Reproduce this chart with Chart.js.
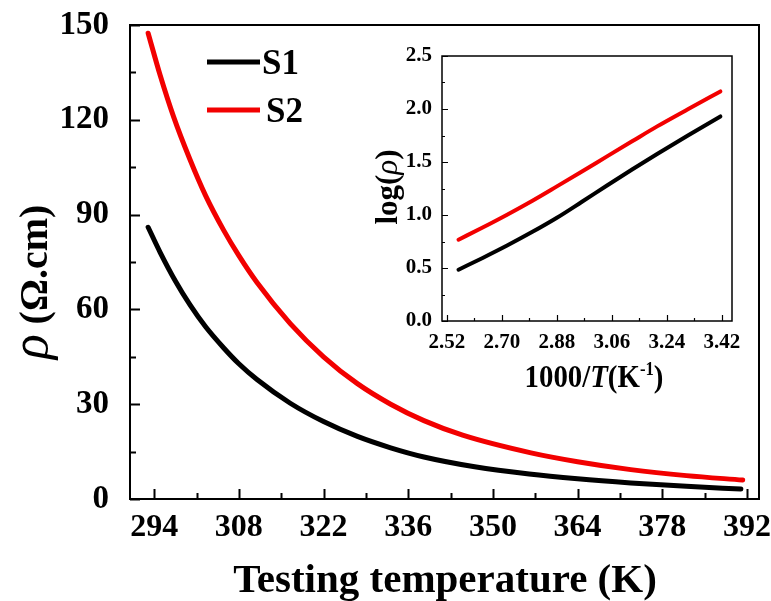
<!DOCTYPE html>
<html>
<head>
<meta charset="utf-8">
<script src="https://cdn.jsdelivr.net/npm/chart.js@4.4.0/dist/chart.umd.min.js"></script>
<style>
body{margin:0;background:#fff;}
#wrap{position:relative;width:771px;height:601px;background:#fff;}
#main{position:absolute;left:0;top:0;}
#inset{position:absolute;left:360px;top:30px;}
</style>
</head>
<body>
<div id="wrap">
  <canvas id="main" width="771" height="601"></canvas>
  <canvas id="inset" width="400" height="380"></canvas>
</div>
<script>
// main plot: resistivity vs temperature
var temps_s1 = [293.0, 295.0, 297.5, 299.9, 302.5, 305.5, 308.0, 311.0, 316.5, 322.0, 327.6, 333.1, 338.6, 347.0, 356.0, 364.0, 372.8, 382.0, 391.0];
var rho_s1   = [86.0, 78.0, 69.0, 61.5, 54.5, 47.8, 42.8, 37.8, 30.3, 24.5, 19.8, 16.2, 13.3, 10.2, 7.9, 6.4, 5.1, 4.0, 3.15];
var temps_s2 = [293.0, 295.0, 297.2, 299.9, 302.5, 305.5, 308.0, 311.0, 316.5, 322.0, 327.6, 333.1, 338.6, 345.0, 356.3, 364.0, 372.8, 382.0, 391.3];
var rho_s2   = [147.4, 134.0, 121.0, 107.5, 96.0, 85.0, 77.0, 68.5, 55.5, 45.0, 36.5, 30.0, 24.8, 20.2, 14.6, 11.8, 9.3, 7.4, 6.0];

// inset: log(rho) vs 1000/T
var invT_s1   = [2.558, 2.637, 2.717, 2.800, 2.880, 2.962, 3.044, 3.126, 3.208, 3.310, 3.415];
var logRho_s1 = [0.484, 0.595, 0.712, 0.841, 0.974, 1.125, 1.278, 1.429, 1.576, 1.753, 1.930];
var invT_s2   = [2.558, 2.637, 2.717, 2.800, 2.880, 2.962, 3.044, 3.126, 3.208, 3.310, 3.415];
var logRho_s2 = [0.767, 0.882, 1.003, 1.135, 1.270, 1.410, 1.553, 1.695, 1.836, 2.000, 2.166];

var seriesNames  = ['S1', 'S2'];
var seriesColors = ['#000000', '#f20000'];

// tick labels
var mainXTicks  = [294, 308, 322, 336, 350, 364, 378, 392];
var mainYTicks  = [0, 30, 60, 90, 120, 150];
var insetXTicks = [2.52, 2.70, 2.88, 3.06, 3.24, 3.42];
var insetYTicks = [0.0, 0.5, 1.0, 1.5, 2.0, 2.5];

var SERIF = "'Liberation Serif', 'Times New Roman', serif";

function pairs(xs, ys){
  var out = [];
  for (var i = 0; i < xs.length; i++) out.push({x: xs[i], y: ys[i]});
  return out;
}

// majors plus a minor halfway between each pair
function withMinors(majors){
  return function(scale){
    var t = [];
    for (var i = 0; i < majors.length; i++){
      t.push({value: majors[i]});
      if (i < majors.length - 1) t.push({value: (majors[i] + majors[i+1]) / 2});
    }
    scale.ticks = t;
  };
}

// fixed axis size, and no extra room for overhanging labels
function fixX(h){
  return function(s){ s.height = h; s.paddingLeft = 0; s.paddingRight = 0; };
}
function fixY(w){
  return function(s){ s.width = w; s.paddingTop = 0; s.paddingBottom = 0; };
}

function drawParts(ctx, parts, x, y, angle, squeeze){
  ctx.save();
  ctx.translate(x, y);
  ctx.rotate(angle);
  ctx.scale(squeeze, 1);
  ctx.fillStyle = '#000';
  ctx.textBaseline = 'alphabetic';
  ctx.textAlign = 'left';
  var total = 0;
  parts.forEach(function(p){ ctx.font = p.font; total += ctx.measureText(p.text).width; });
  var cx = -total / 2;
  parts.forEach(function(p){
    ctx.font = p.font;
    ctx.fillText(p.text, cx, p.dy || 0);
    cx += ctx.measureText(p.text).width;
  });
  ctx.restore();
}

// box round the plot area and inward ticks
var frameTicks = {
  id: 'frameTicks',
  afterDraw: function(chart, args, opts){
    var ctx = chart.ctx, a = chart.chartArea;
    var xs = chart.scales.x, ys = chart.scales.y;
    ctx.save();
    ctx.strokeStyle = '#000';
    ctx.lineWidth = opts.box;
    ctx.strokeRect(a.left, a.top, a.right - a.left, a.bottom - a.top);
    ctx.lineWidth = opts.tick;
    ctx.beginPath();
    xs.ticks.forEach(function(t){
      var px = Math.round(xs.getPixelForValue(t.value)) + 0.5;
      var len = opts.xMajors.indexOf(t.value) >= 0 ? opts.major : opts.minor;
      ctx.moveTo(px, a.bottom); ctx.lineTo(px, a.bottom - len);
    });
    ys.ticks.forEach(function(t){
      var py = Math.round(ys.getPixelForValue(t.value)) + 0.5;
      var len = opts.yMajors.indexOf(t.value) >= 0 ? opts.major : opts.minor;
      ctx.moveTo(a.left, py); ctx.lineTo(a.left + len, py);
    });
    ctx.stroke();
    ctx.restore();
  }
};

var legendLines = {
  id: 'legendLines',
  afterDraw: function(chart){
    var ctx = chart.ctx;
    ctx.save();
    chart.data.datasets.forEach(function(ds, i){
      var y = 62 + i * 48;
      ctx.strokeStyle = ds.borderColor;
      ctx.lineWidth = 5;
      ctx.beginPath();
      ctx.moveTo(207, y); ctx.lineTo(260, y);
      ctx.stroke();
      ctx.fillStyle = '#000';
      ctx.font = 'bold 35px ' + SERIF;
      ctx.textBaseline = 'alphabetic';
      ctx.fillText(ds.label, 262 + i * 4, y + 11.5);
    });
    ctx.restore();
  }
};

var mainTitles = {
  id: 'mainTitles',
  afterDraw: function(chart){
    var ctx = chart.ctx;
    drawParts(ctx, [{text: 'Testing temperature (K)', font: 'bold 41px ' + SERIF}], 445, 592, 0, 1);
    drawParts(ctx, [
      {text: 'ρ', font: 'italic 52px ' + SERIF},
      {text: ' (Ω.cm)', font: 'bold 40px ' + SERIF}
    ], 47, 282, -Math.PI / 2, 1);
  }
};

var insetTitles = {
  id: 'insetTitles',
  afterDraw: function(chart){
    var ctx = chart.ctx;
    drawParts(ctx, [
      {text: '1000/', font: 'bold 31px ' + SERIF},
      {text: 'T', font: 'bold italic 31px ' + SERIF},
      {text: '(K', font: 'bold 31px ' + SERIF},
      {text: '-1', font: 'bold 18px ' + SERIF, dy: -12},
      {text: ')', font: 'bold 31px ' + SERIF}
    ], 234, 357, 0, 0.93);
    drawParts(ctx, [
      {text: 'log(', font: 'bold 31px ' + SERIF},
      {text: 'ρ', font: 'italic 31px ' + SERIF},
      {text: ')', font: 'bold 31px ' + SERIF}
    ], 37, 157, -Math.PI / 2, 1);
  }
};

function lineSet(label, color, data, width){
  return {
    label: label, data: data, borderColor: color, backgroundColor: color,
    borderWidth: width, pointRadius: 0, fill: false,
    cubicInterpolationMode: 'monotone', borderCapStyle: 'round'
  };
}

function tickFont(size){ return {family: SERIF, size: size, weight: 'bold'}; }

new Chart(document.getElementById('main'), {
  type: 'line',
  data: {datasets: [
    lineSet(seriesNames[0], seriesColors[0], pairs(temps_s1, rho_s1), 5),
    lineSet(seriesNames[1], seriesColors[1], pairs(temps_s2, rho_s2), 5)
  ]},
  options: {
    responsive: false, animation: false, devicePixelRatio: 1,
    layout: {padding: {left: 0, top: 25, right: 12, bottom: 0}},
    plugins: {
      legend: {display: false}, tooltip: {enabled: false},
      frameTicks: {box: 2, tick: 2, major: 10, minor: 6, xMajors: mainXTicks, yMajors: mainYTicks}
    },
    scales: {
      x: {
        type: 'linear', min: 290, max: 394,
        grid: {display: false}, border: {display: false},
        afterBuildTicks: withMinors(mainXTicks),
        afterFit: fixX(102),
        ticks: {
          padding: 2, color: '#000', font: tickFont(32), autoSkip: false, maxRotation: 0,
          callback: function(v){ return mainXTicks.indexOf(v) >= 0 ? String(v) : ''; }
        }
      },
      y: {
        type: 'linear', min: 0, max: 150,
        grid: {display: false}, border: {display: false},
        afterBuildTicks: withMinors(mainYTicks),
        afterFit: fixY(130),
        ticks: {
          padding: 13, color: '#000', font: tickFont(33), autoSkip: false,
          callback: function(v){ return mainYTicks.indexOf(v) >= 0 ? String(v) : ''; }
        }
      }
    }
  },
  plugins: [frameTicks, legendLines, mainTitles]
});

new Chart(document.getElementById('inset'), {
  type: 'line',
  data: {datasets: [
    lineSet(seriesNames[0], seriesColors[0], pairs(invT_s1, logRho_s1), 4),
    lineSet(seriesNames[1], seriesColors[1], pairs(invT_s2, logRho_s2), 4)
  ]},
  options: {
    responsive: false, animation: false, devicePixelRatio: 1,
    layout: {padding: {left: 0, top: 26, right: 28, bottom: 0}},
    plugins: {
      legend: {display: false}, tooltip: {enabled: false},
      frameTicks: {box: 1.5, tick: 1.2, major: 6, minor: 3, xMajors: insetXTicks, yMajors: insetYTicks}
    },
    scales: {
      x: {
        type: 'linear', min: 2.504, max: 3.453,
        grid: {display: false}, border: {display: false},
        afterBuildTicks: withMinors(insetXTicks),
        afterFit: fixX(89),
        ticks: {
          padding: 1, color: '#000', font: tickFont(21), autoSkip: false, maxRotation: 0,
          callback: function(v){ return insetXTicks.indexOf(v) >= 0 ? v.toFixed(2) : ''; }
        }
      },
      y: {
        type: 'linear', min: 0, max: 2.5,
        grid: {display: false}, border: {display: false},
        afterBuildTicks: withMinors(insetYTicks),
        afterFit: fixY(82),
        ticks: {
          padding: 2, color: '#000', font: tickFont(21), autoSkip: false,
          callback: function(v){ return insetYTicks.indexOf(v) >= 0 ? v.toFixed(1) : ''; }
        }
      }
    }
  },
  plugins: [frameTicks, insetTitles]
});
</script>
</body>
</html>
